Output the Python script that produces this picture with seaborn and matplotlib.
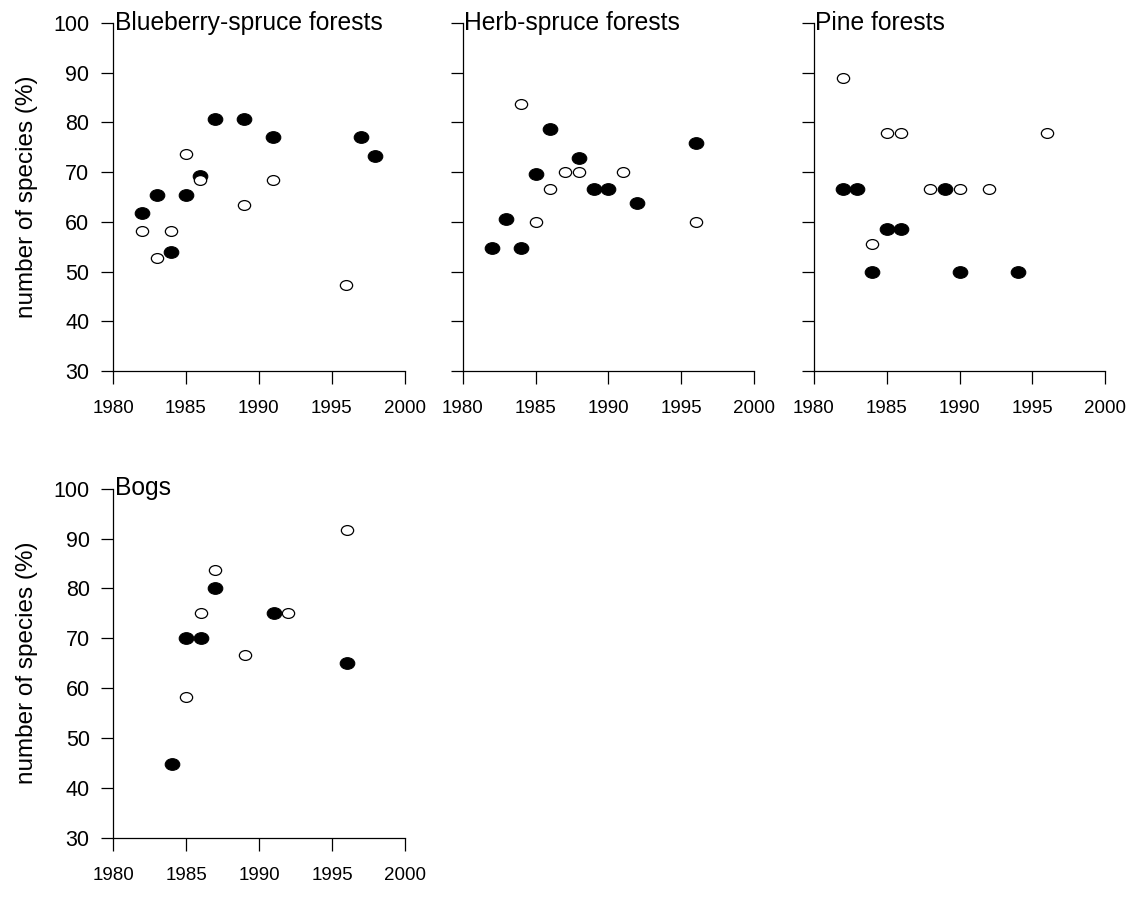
import numpy as np
import pandas as pd
import matplotlib
matplotlib.use("Agg")
import matplotlib.pyplot as plt
import seaborn as sns
from matplotlib.path import Path
from matplotlib.transforms import Affine2D
from matplotlib.markers import MarkerStyle

# ---------------- data ----------------
panel_titles = ["Blueberry-spruce forests", "Herb-spruce forests", "Pine forests", "Bogs"]

blueberry_filled_year = [1982, 1983, 1984, 1985, 1986, 1987, 1989, 1991, 1997, 1998]
blueberry_filled_pct = [61.8, 65.5, 53.9, 65.5, 69.2, 80.7, 80.7, 77.0, 77.0, 73.3]
blueberry_open_year = [1982, 1983, 1984, 1985, 1986, 1989, 1991, 1996]
blueberry_open_pct = [58.1, 52.7, 58.1, 73.7, 68.4, 63.4, 68.4, 47.3]

herb_filled_year = [1982, 1983, 1984, 1985, 1986, 1988, 1989, 1990, 1992, 1996]
herb_filled_pct = [54.7, 60.5, 54.7, 69.6, 78.7, 72.9, 66.7, 66.7, 63.8, 75.8]
herb_open_year = [1984, 1985, 1986, 1987, 1988, 1991, 1996]
herb_open_pct = [83.7, 60.0, 66.7, 70.0, 70.0, 70.0, 60.0]

pine_filled_year = [1982, 1983, 1984, 1985, 1986, 1989, 1990, 1994]
pine_filled_pct = [66.7, 66.7, 50.0, 58.5, 58.5, 66.7, 50.0, 50.0]
pine_open_year = [1982, 1984, 1985, 1986, 1988, 1990, 1992, 1996]
pine_open_pct = [88.9, 55.6, 77.8, 77.8, 66.7, 66.7, 66.7, 77.8]

bogs_filled_year = [1984, 1985, 1986, 1987, 1991, 1996]
bogs_filled_pct = [44.8, 70.0, 70.0, 80.0, 75.0, 65.0]
bogs_open_year = [1985, 1986, 1987, 1989, 1992, 1996]
bogs_open_pct = [58.3, 75.0, 83.6, 66.6, 75.0, 91.8]

x_ticks = [1980, 1985, 1990, 1995, 2000]
y_ticks = [30, 40, 50, 60, 70, 80, 90, 100]
y_label = "number of species (%)"

panels = [
    (blueberry_filled_year, blueberry_filled_pct, blueberry_open_year, blueberry_open_pct),
    (herb_filled_year, herb_filled_pct, herb_open_year, herb_open_pct),
    (pine_filled_year, pine_filled_pct, pine_open_year, pine_open_pct),
    (bogs_filled_year, bogs_filled_pct, bogs_open_year, bogs_open_pct),
]

# ---------------- style ----------------
sns.set_theme(style="ticks")
plt.rcParams["font.family"] = ["Liberation Sans", "DejaVu Sans"]
plt.rcParams["axes.linewidth"] = 0.9

ellipse = Path.unit_circle().transformed(Affine2D().scale(1.0, 0.8))
ell_marker = MarkerStyle(ellipse)

W, H = 1136, 897
fig = plt.figure(figsize=(W / 100, H / 100), dpi=100)

# pixel boxes: (left, right, top, bottom)
boxes = [
    (113.0, 404.5, 23.0, 371.0),
    (462.7, 754.0, 23.0, 371.0),
    (813.7, 1105.3, 23.0, 371.0),
    (113.3, 405.0, 488.7, 837.7),
]

for i, ((fy, fp, oy, op), title, (l, r, t, b)) in enumerate(zip(panels, panel_titles, boxes)):
    ax = fig.add_axes([l / W, 1 - b / H, (r - l) / W, (b - t) / H])
    df_f = pd.DataFrame({"year": fy, "pct": fp})
    df_o = pd.DataFrame({"year": oy, "pct": op})
    sns.scatterplot(data=df_f, x="year", y="pct", ax=ax, marker=ell_marker, s=110,
                    color="black", edgecolor="black", linewidth=0.8, clip_on=False, zorder=3)
    sns.scatterplot(data=df_o, x="year", y="pct", ax=ax, marker=ell_marker, s=78,
                    facecolor="white", edgecolor="black", linewidth=0.9, clip_on=False, zorder=3)
    ax.set_xlim(1980, 2000)
    ax.set_ylim(30, 100)
    ax.set_xticks(x_ticks)
    ax.set_yticks(y_ticks)
    for side in ["top", "right"]:
        ax.spines[side].set_visible(False)
    for side in ["left", "bottom"]:
        ax.spines[side].set_color("black")
        ax.spines[side].set_linewidth(0.9)
    ax.tick_params(axis="both", direction="out", length=9, width=0.9, color="black",
                   labelcolor="black")
    ax.tick_params(axis="x", pad=12, labelsize=13.5)
    ax.tick_params(axis="y", pad=8, labelsize=15.5)
    ax.set_xlabel("")
    if i in (0, 3):
        ax.set_ylabel(y_label, fontsize=17.5, color="black", labelpad=11)
    else:
        ax.set_ylabel("")
        ax.tick_params(axis="y", labelleft=False)
    ax.text(0.006, 0.981, title, transform=ax.transAxes, ha="left", va="baseline",
            fontsize=17.7, color="black")
    ax.set_facecolor("white")

fig.savefig("out.png", dpi=100, facecolor="white")
